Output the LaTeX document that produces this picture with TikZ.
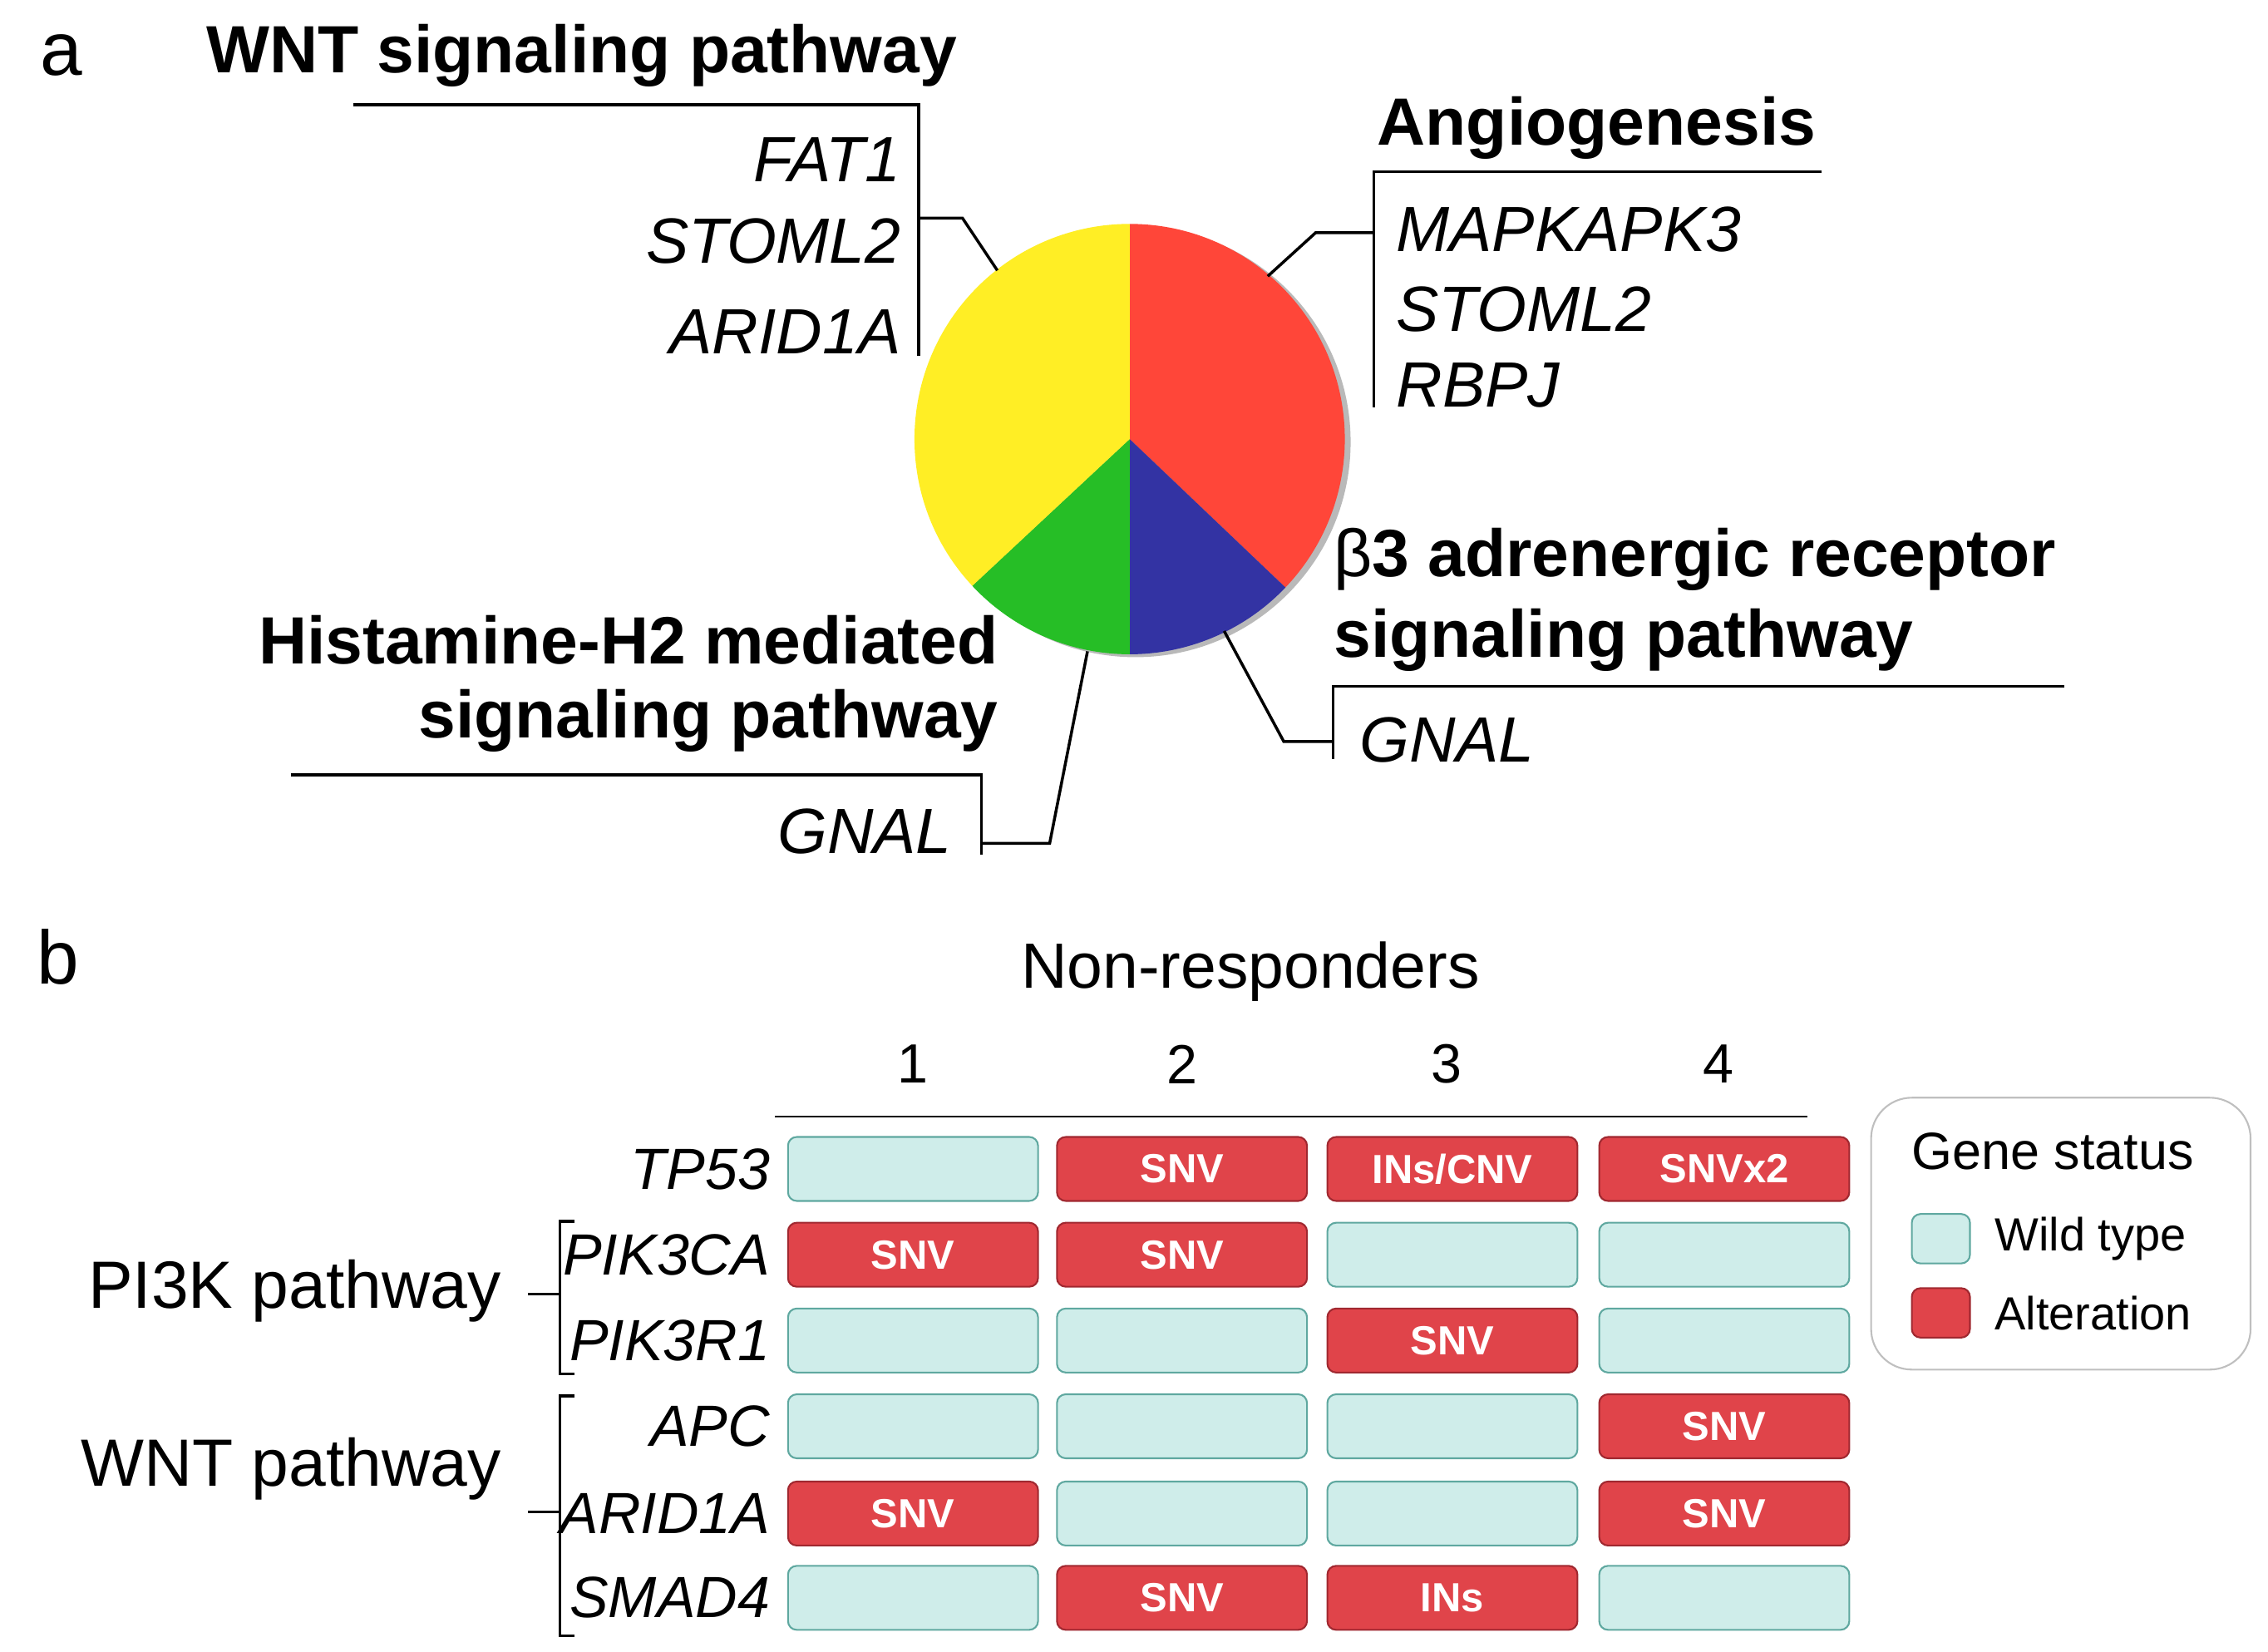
\documentclass[tikz,border=0pt]{standalone}
\usepackage{fontspec}
\setmainfont{Liberation Sans}
\definecolor{wtf}{HTML}{CFEDEA}
\definecolor{wtd}{HTML}{5FA8A0}
\definecolor{alf}{HTML}{E0444A}
\definecolor{ald}{HTML}{A02830}
\begin{document}
\begin{tikzpicture}[x=0.5pt,y=-0.5pt,
 ttl/.style={font=\fontsize{23}{27}\selectfont\bfseries,inner sep=0pt},
 gene/.style={font=\fontsize{22}{26}\selectfont\itshape,inner sep=0pt},
 rg/.style={font=\fontsize{20}{24}\selectfont\itshape,inner sep=0pt,anchor=east},
 lead/.style={line width=1pt},
 wt/.style={draw=wtd,fill=wtf,rounded corners=3pt,minimum width=86pt,minimum height=22pt,inner sep=0pt,line width=0.6pt},
 alt/.style={draw=ald,fill=alf,rounded corners=3pt,minimum width=86pt,minimum height=22pt,inner sep=0pt,text=white,font=\fontsize{14}{16}\selectfont\bfseries,line width=0.6pt}]
\useasboundingbox (0,0) rectangle (1560,1136);
\node[font=\fontsize{26}{30}\selectfont] (la) at (42,38) {a};
\node[font=\fontsize{26}{30}\selectfont] (lb) at (40,658) {b};
% pie
\coordinate (c) at (777,302);
\fill[gray!55] (781,304) circle (148);
\fill[red!75!white!90!orange] (c) -- ++(-90:148) arc (-90:43.6:148) -- cycle;
\fill[blue!55!black!80!white] (c) -- ++(43.6:148) arc (43.6:90:148) -- cycle;
\fill[green!70!black!85!white] (c) -- ++(90:148) arc (90:137:148) -- cycle;
\fill[yellow!85!white!95!orange] (c) -- ++(137:148) arc (137:270:148) -- cycle;
% WNT
\node[ttl] (t1) at (400,38) {WNT signaling pathway};
\draw[lead] (243,72) -- (632,72) -- (632,245);
\coordinate (p1) at (686,186);
\draw[lead] (632,150) -- (662,150) -- (p1);
\node[gene,anchor=east] (g1) at (620,110) {FAT1};
\node[gene,anchor=east] (g2) at (620,166) {STOML2};
\node[gene,anchor=east] (g3) at (620,228) {ARID1A};
% Angio
\node[ttl,anchor=west] (t2) at (947,88) {Angiogenesis};
\draw[lead] (1253,118) -- (945,118) -- (945,280);
\coordinate (p2) at (872,190);
\draw[lead] (945,160) -- (905,160) -- (p2);
\node[gene,anchor=west] (g4) at (960,158) {MAPKAPK3};
\node[gene,anchor=west] (g5) at (960,213) {STOML2};
\node[gene,anchor=west] (g6) at (960,265) {RBPJ};
% beta3
\node[ttl,anchor=west] (t3) at (917,385) {{\mdseries β}3 adrenergic receptor};
\node[ttl,anchor=west] (t3b) at (917,440) {signaling pathway};
\draw[lead] (1420,472) -- (917,472) -- (917,522);
\coordinate (p3) at (842,434);
\draw[lead] (917,510) -- (883,510) -- (p3);
\node[gene,anchor=west] (g7) at (935,509) {GNAL};
% histamine
\node[ttl,anchor=east] (t4) at (687,440) {Histamine-H2 mediated};
\node[ttl,anchor=east] (t4b) at (687,496) {signaling pathway};
\draw[lead] (200,533) -- (675,533) -- (675,588);
\coordinate (p4) at (748,448);
\draw[lead] (675,580) -- (722,580) -- (p4);
\node[gene,anchor=east] (g8) at (655,572) {GNAL};
% part b
\node[font=\fontsize{22}{26}\selectfont] (nr) at (860,668) {Non-responders};
\foreach \i/\x in {1/628,2/813,3/995,4/1182}
  \node[font=\fontsize{19}{23}\selectfont] (n\i) at (\x,732) {\i};
\draw[line width=0.8pt] (533,768) -- (1243,768);
\foreach \r/\y/\g/\a/\b/\c/\d in {
 1/804/TP53/W/SNV/INs\slash CNV/SNVx2,
 2/863/PIK3CA/SNV/SNV/W/W,
 3/922/PIK3R1/W/W/SNV/W,
 4/981/APC/W/W/W/SNV,
 5/1041/ARID1A/SNV/W/W/SNV,
 6/1099/SMAD4/W/SNV/INs/W}{
  \node[rg] (gn\r) at (530,\y) {\g};
  \foreach \col/\x/\v in {1/628/\a,2/813/\b,3/999/\c,4/1186/\d}{
    \edef\tmp{\v}\def\W{W}
    \ifx\tmp\W \node[wt] (b\r\col) at (\x,\y) {};
    \else \node[alt] (b\r\col) at (\x,\y) {\v}; \fi
  }
}
% brackets
\draw[line width=1pt] (395,840) -- (385,840) -- (385,945) -- (395,945);
\coordinate (k1) at (363,890);
\draw[line width=1pt] (385,890) -- (k1);
\node[font=\fontsize{23}{27}\selectfont,anchor=east,inner sep=0pt] (pi) at (345,888) {PI3K pathway};
\draw[line width=1pt] (395,960) -- (385,960) -- (385,1125) -- (395,1125);
\coordinate (k2) at (363,1040);
\draw[line width=1pt] (385,1040) -- (k2);
\node[font=\fontsize{23}{27}\selectfont,anchor=east,inner sep=0pt] (wn) at (345,1010) {WNT pathway};
% legend
\draw[gray!50,rounded corners=14pt,line width=0.6pt] (1287,755) rectangle (1548,942);
\node[font=\fontsize{18}{22}\selectfont] (gs) at (1412,792) {Gene status};
\node[wt,minimum width=20pt,minimum height=17pt] (s1) at (1335,852) {};
\node[alt,minimum width=20pt,minimum height=17pt] (s2) at (1335,903) {};
\node[font=\fontsize{16}{20}\selectfont,anchor=west] (l1) at (1365,852) {Wild type};
\node[font=\fontsize{16}{20}\selectfont,anchor=west] (l2) at (1365,903) {Alteration};
\end{tikzpicture}
\end{document}
